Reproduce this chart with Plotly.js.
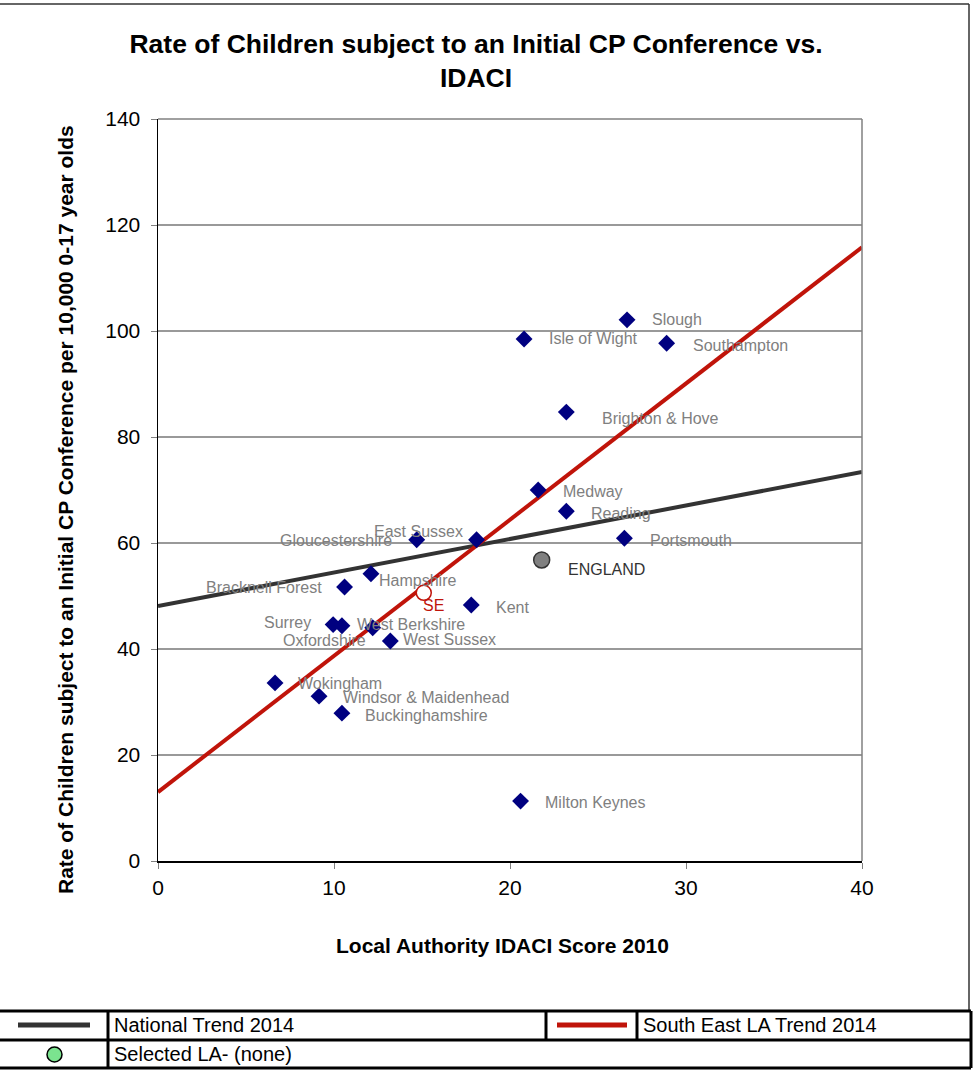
<!DOCTYPE html>
<html>
<head>
<meta charset="utf-8">
<script src="https://cdn.plot.ly/plotly-3.0.1.min.js"></script>
<style>html,body{margin:0;padding:0;background:#fff;}#chart{width:977px;height:1070px;}</style>
</head>
<body>
<div id="chart"></div>
<script>
// ---- Data ----
const laNames = ["Slough","Isle of Wight","Southampton","Brighton & Hove","Medway","Reading","Portsmouth",
  "Gloucestershire","East Sussex","Hampshire","Bracknell Forest","Kent","Surrey","Oxfordshire","West Berkshire",
  "West Sussex","Wokingham","Windsor & Maidenhead","Buckinghamshire","Milton Keynes"];
const laIdaci = [26.65,20.8,28.9,23.2,21.6,23.2,26.5,14.7,18.1,12.1,10.6,17.8,9.95,10.45,12.2,13.2,6.65,9.15,10.45,20.6];
const laRate  = [102.1,98.5,97.7,84.7,70.0,66.0,60.9,60.6,60.6,54.2,51.7,48.3,44.6,44.4,44.0,41.5,33.6,31.1,27.9,11.3];
const englandIdaci = [21.8], englandRate = [56.8];
const seIdaci = [15.1], seRate = [50.6];
const trendX = [0, 40];
const nationalTrendY = [48.1, 73.4];
const seTrendY = [13.0, 115.8];
const xTicks = [0,10,20,30,40];
const yTicks = [0,20,40,60,80,100,120,140];

// ---- label placement (style) ----
const labelStyle = {
  "Slough":[23,0,"left"],"Isle of Wight":[23,0,"left"],"Southampton":[24,-2,"left"],
  "Brighton & Hove":[34,-6,"left"],"Medway":[23,-1,"left"],"Reading":[23,-2,"left"],
  "Portsmouth":[24,-2,"left"],"Gloucestershire":[-23,-1,"right"],"East Sussex":[-12,8,"right"],
  "Hampshire":[6,-7,"left"],"Bracknell Forest":[-21,-1,"right"],"Kent":[23,-2,"left"],
  "Surrey":[-20,2,"right"],"Oxfordshire":[26,-15,"right"],"West Berkshire":[-18,3,"left"],
  "West Sussex":[11,2,"left"],"Wokingham":[21,-1,"left"],"Windsor & Maidenhead":[22,-1,"left"],
  "Buckinghamshire":[21,-2,"left"],"Milton Keynes":[22,-1,"left"]
};

const FONT = "Liberation Sans, Arial, sans-serif";
const L = 158, R = 862, T = 119, B = 861;
const px = v => (v - L) / (R - L);
const py = v => (B - v) / (B - T);

const traces = [
  {x: trendX, y: nationalTrendY, mode: "lines", line: {color: "#333333", width: 4}, hoverinfo: "skip"},
  {x: trendX, y: seTrendY, mode: "lines", line: {color: "#C0140A", width: 4}, hoverinfo: "skip"},
  {x: laIdaci, y: laRate, text: laNames, mode: "markers",
   marker: {symbol: "diamond", size: 13, color: "#000080", line: {width: 0}}},
  {x: englandIdaci, y: englandRate, mode: "markers",
   marker: {symbol: "circle", size: 16, color: "#808080", line: {color: "#333333", width: 1.5}}},
  {x: seIdaci, y: seRate, mode: "markers",
   marker: {symbol: "circle", size: 15, color: "#ffffff", line: {color: "#C0140A", width: 1.5}}}
];

const annotations = [];
laNames.forEach((n, i) => {
  const s = labelStyle[n];
  annotations.push({x: laIdaci[i], y: laRate[i], xref: "x", yref: "y", text: n, showarrow: false,
    xanchor: s[2], yanchor: "middle", xshift: s[0], yshift: s[1],
    font: {family: FONT, size: 16, color: "#808080"}});
});
annotations.push({x: englandIdaci[0], y: englandRate[0], xref: "x", yref: "y", text: "ENGLAND", showarrow: false,
  xanchor: "left", yanchor: "middle", xshift: 24, yshift: -10, font: {family: FONT, size: 16, color: "#333333"}});
annotations.push({x: seIdaci[0], y: seRate[0], xref: "x", yref: "y", text: "SE", showarrow: false,
  xanchor: "left", yanchor: "middle", xshift: -3, yshift: -13, font: {family: FONT, size: 16, color: "#C0140A"}});

// Legend table texts
annotations.push({x: px(112), y: py(1025), xref: "paper", yref: "paper", text: "National Trend 2014", showarrow: false,
  xanchor: "left", yanchor: "middle", font: {family: FONT, size: 20, color: "#000"}});
annotations.push({x: px(641), y: py(1025), xref: "paper", yref: "paper", text: "South East LA Trend 2014", showarrow: false,
  xanchor: "left", yanchor: "middle", font: {family: FONT, size: 20, color: "#000"}});
annotations.push({x: px(112), y: py(1054), xref: "paper", yref: "paper", text: "Selected LA- (none)", showarrow: false,
  xanchor: "left", yanchor: "middle", font: {family: FONT, size: 20, color: "#000"}});

// Axis titles as annotations for exact placement
annotations.push({x: px(65), y: py(510), xref: "paper", yref: "paper", textangle: -90, showarrow: false,
  text: "<b>Rate of Children subject to an Initial CP Conference per 10,000 0-17 year olds</b>",
  xanchor: "center", yanchor: "middle", font: {family: FONT, size: 21, color: "#000"}});
annotations.push({x: px(502), y: py(945), xref: "paper", yref: "paper", showarrow: false,
  text: "<b>Local Authority IDACI Score 2010</b>", xanchor: "center", yanchor: "middle",
  font: {family: FONT, size: 21, color: "#000"}});

const shapes = [];
const line = (x0, y0, x1, y1, color, width) => shapes.push({type: "line", xref: "paper", yref: "paper",
  x0: px(x0), y0: py(y0), x1: px(x1), y1: py(y1), line: {color: color, width: width}});
// outer chart frame
line(0, 4, 969, 4, "#333333", 1.5);
line(969, 4, 969, 1011, "#333333", 1.5);
// plot frame (gray top/right)
line(L, T, R, T, "#808080", 1.5);
line(R, T, R, B, "#808080", 1.5);
// table
line(0, 1011, 971, 1011, "#000", 3);
line(0, 1040, 971, 1040, "#000", 3);
line(0, 1068, 971, 1068, "#000", 3);
line(971, 1011, 971, 1068, "#000", 3);
line(108, 1011, 108, 1068, "#000", 3);
line(546, 1011, 546, 1040, "#000", 3);
line(637, 1011, 637, 1040, "#000", 3);
// legend symbols
line(18, 1025, 90, 1025, "#333333", 5);
line(557, 1025, 627, 1025, "#C0140A", 5);
shapes.push({type: "circle", xref: "paper", yref: "paper", x0: px(47), x1: px(62), y0: py(1062), y1: py(1047),
  fillcolor: "#7BE38F", line: {color: "#000", width: 1.5}});

const layout = {
  width: 977, height: 1070,
  margin: {l: L, r: 977 - R, t: T, b: 1070 - B, pad: 0},
  paper_bgcolor: "#fff", plot_bgcolor: "#fff",
  showlegend: false,
  title: {text: "<b>Rate of Children subject to an Initial CP Conference vs.<br>IDACI</b>",
    x: 476 / 977, xanchor: "center", y: 1 - 53 / 1070, yanchor: "middle",
    font: {family: FONT, size: 26.5, color: "#000"}},
  xaxis: {range: [0, 40], tickvals: xTicks, ticktext: xTicks.map(String), showgrid: false, zeroline: false,
    showline: true, linecolor: "#000", linewidth: 1.5, ticks: "outside", ticklen: 6, tickcolor: "#808080",
    ticklabelstandoff: 1,
    tickfont: {family: FONT, size: 21, color: "#000"}, fixedrange: true},
  yaxis: {range: [0, 140], tickvals: yTicks, ticktext: yTicks.map(String), showgrid: true, gridcolor: "#999999",
    gridwidth: 2, zeroline: false, showline: true, linecolor: "#000", linewidth: 1.5, ticks: "outside", ticklen: 6,
    tickcolor: "#808080", ticklabelstandoff: 6, tickfont: {family: FONT, size: 21, color: "#000"}, fixedrange: true},
  annotations: annotations,
  shapes: shapes
};

Plotly.newPlot("chart", traces, layout, {displayModeBar: false, staticPlot: true});
</script>
</body>
</html>
